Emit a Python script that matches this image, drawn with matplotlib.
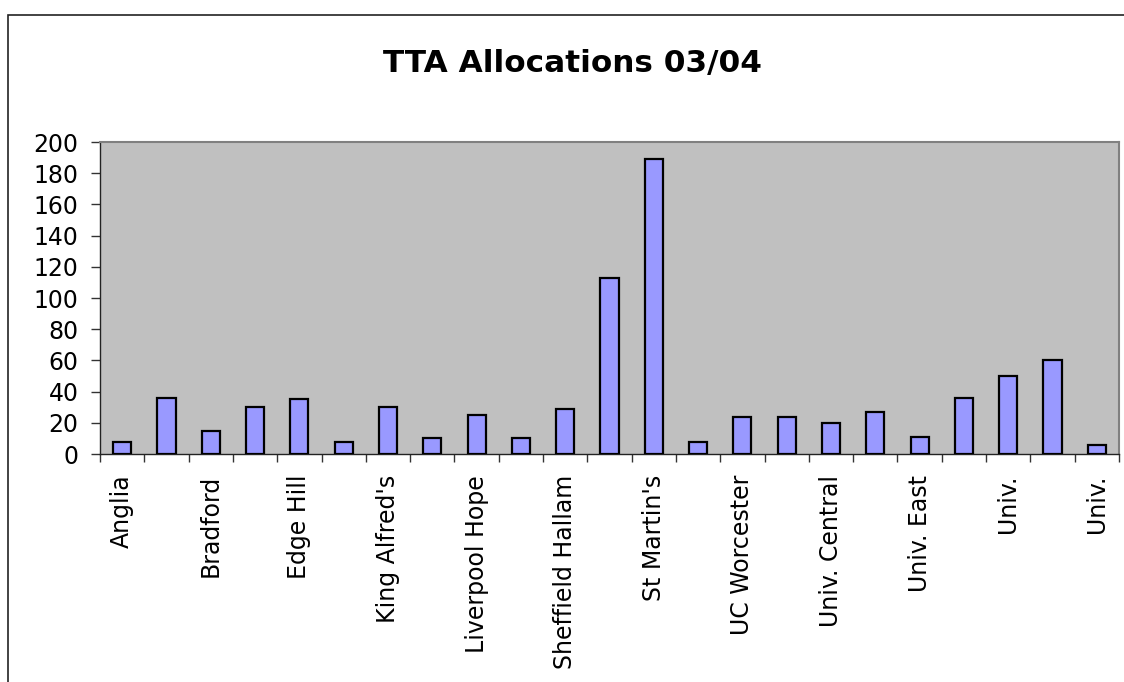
import matplotlib
matplotlib.use("Agg")
import matplotlib.pyplot as plt
from matplotlib.patches import Rectangle
from matplotlib.ticker import FixedLocator

# --- data -------------------------------------------------------------
# 23 institutions; only every other name is printed on the axis
categories = ["Anglia", "", "Bradford", "", "Edge Hill", "", "King Alfred's", "",
              "Liverpool Hope", "", "Sheffield Hallam", "", "St Martin's", "",
              "UC Worcester", "", "Univ. Central", "", "Univ. East", "",
              "Univ.", "", "Univ."]
values = [8, 36, 15, 30, 35, 8, 30, 10, 25, 10, 29, 113, 189, 8, 24, 24,
          20, 27, 11, 36, 50, 60, 6]
y_ticks = [0, 20, 40, 60, 80, 100, 120, 140, 160, 180, 200]
title = "TTA Allocations 03/04"

# --- figure -----------------------------------------------------------
W, H = 1124, 682
fig = plt.figure(figsize=(W / 100, H / 100), dpi=100)
plt.rcParams['font.family'] = ['DejaVu Sans']

# outer chart border (extends past right/bottom edges)
fig.patches.append(Rectangle((8 / W, -0.1), 1.2, 1 - 15 / H + 0.1,
                             transform=fig.transFigure, fill=False,
                             edgecolor='#222222', linewidth=1.2))

ax = fig.add_axes([100 / W, 1 - 454 / H, 1019 / W, 312 / H])
ax.set_facecolor('#C0C0C0')

x = list(range(len(values)))
ax.bar(x, values, width=0.41, color='#9999FF', edgecolor='black',
       linewidth=1.6, zorder=3)

ax.set_xlim(-0.5, len(values) - 0.5)
ax.set_ylim(0, 200)
ax.set_yticks(y_ticks)
ax.tick_params(axis='y', direction='out', length=6.5, width=1,
               color='#333333', labelsize=17, pad=9)

# labels at every other category centre, boundary ticks as minor ticks
lab_pos = [i for i, c in enumerate(categories) if c]
ax.set_xticks(lab_pos)
ax.set_xticklabels([categories[i] for i in lab_pos], rotation=90,
                   fontsize=17, va='top', ha='center')
ax.xaxis.set_minor_locator(FixedLocator([i - 0.5 for i in range(len(values) + 1)]))
ax.tick_params(axis='x', which='major', length=0, pad=15)
ax.tick_params(axis='x', which='minor', direction='out', length=6,
               width=1, color='#333333')

for s in ['left', 'bottom']:
    ax.spines[s].set_color('#222222')
    ax.spines[s].set_linewidth(1)
for s in ['top', 'right']:
    ax.spines[s].set_color('#808080')
    ax.spines[s].set_linewidth(1.5)

fig.text(572.5 / W, 1 - 72 / H, title, ha='center', va='baseline',
         fontsize=22.4, fontweight='bold')

fig.savefig('out.png', dpi=100)
